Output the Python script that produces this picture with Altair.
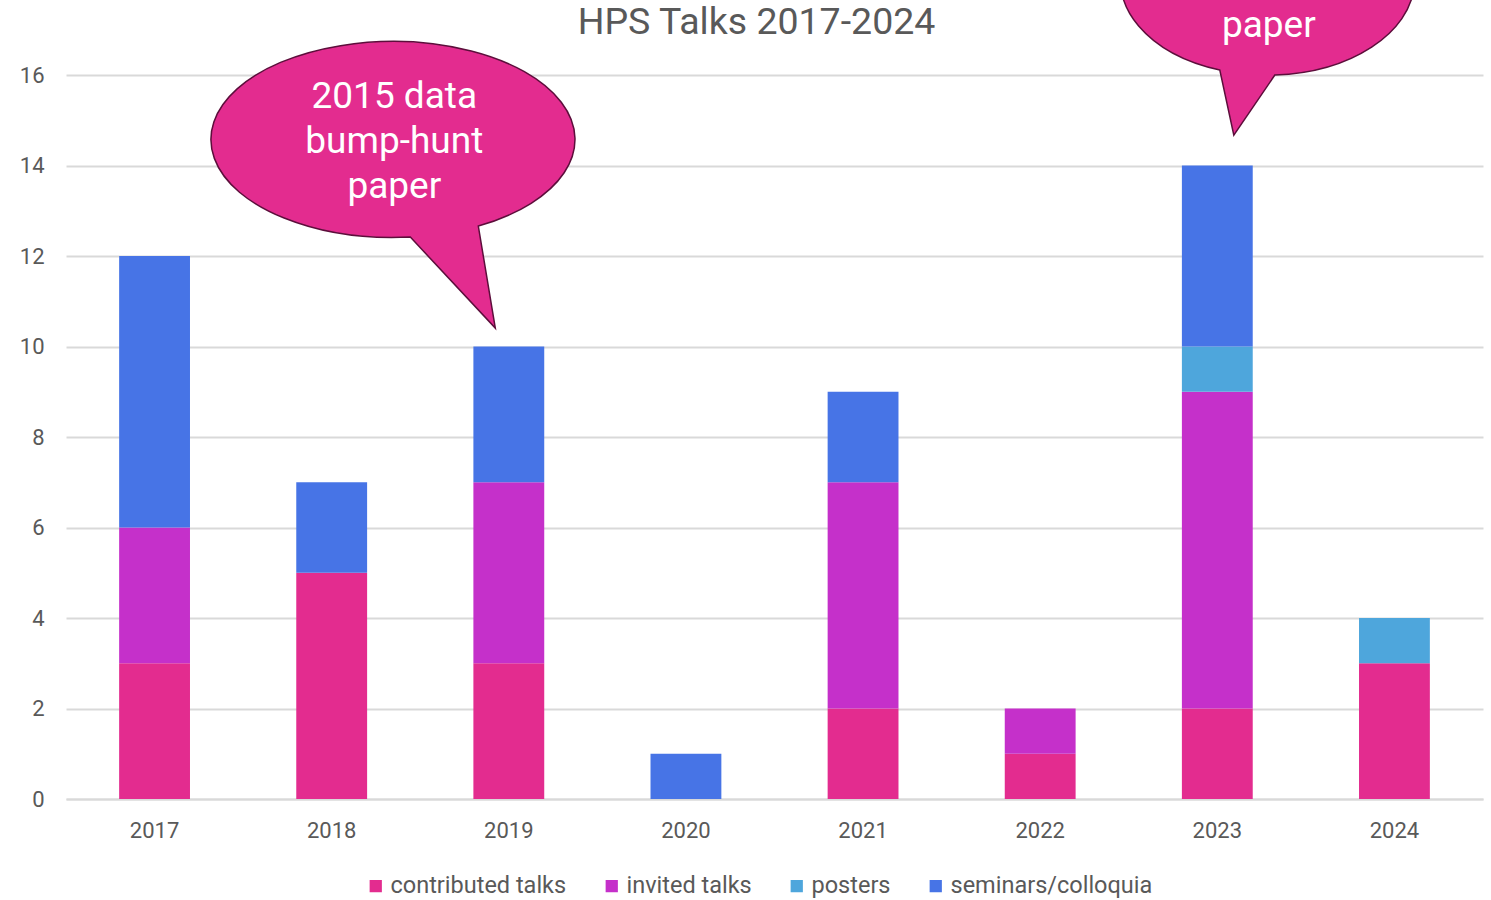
import altair as alt
import pandas as pd

years = ["2017", "2018", "2019", "2020", "2021", "2022", "2023", "2024"]
contributed = [3, 5, 3, 0, 2, 1, 2, 3]
invited = [3, 0, 4, 0, 5, 1, 7, 0]
posters = [0, 0, 0, 0, 0, 0, 1, 1]
seminars = [6, 2, 3, 1, 2, 0, 4, 0]
categories = ["contributed talks", "invited talks", "posters", "seminars/colloquia"]
colors = ["#E32C8F", "#C530CA", "#4EA6DC", "#4774E6"]
y_ticks = [0, 2, 4, 6, 8, 10, 12, 14, 16]
title_text = "HPS Talks 2017-2024"

bubble_years = ["2019", "2023"]
bubble_anchor = [10, 14]
bubble_text = ["2015 data\nbump-hunt\npaper", "paper"]

series = [contributed, invited, posters, seminars]
rows = []
for ci, (cat, vals) in enumerate(zip(categories, series)):
    for y, v in zip(years, vals):
        if v > 0:
            rows.append({"year": y, "category": cat, "value": v, "order": ci})
df = pd.DataFrame(rows)
bdf = pd.DataFrame({"year": bubble_years, "anchor": bubble_anchor, "text": bubble_text})

FONT = "Roboto"
GRAY = "#595959"
PINK = "#E32C8F"

x_scale = alt.Scale(domain=years, paddingInner=0.6, paddingOuter=0.3)
y_scale = alt.Scale(domain=[0, 17.66], nice=False)

bars = alt.Chart(df).mark_bar().encode(
    x=alt.X("year:N", scale=x_scale, sort=years,
            axis=alt.Axis(title=None, labelAngle=0, ticks=False, domainColor="#D9D9D9",
                          domainWidth=2, labelPadding=21)),
    y=alt.Y("value:Q", stack="zero", scale=y_scale,
            axis=alt.Axis(title=None, values=y_ticks, domain=False, ticks=False,
                          gridColor="#D9D9D9", gridWidth=2, labelPadding=22)),
    color=alt.Color("category:N", scale=alt.Scale(domain=categories, range=colors),
                    legend=alt.Legend(orient="none", legendX=298, legendY=874,
                                      direction="horizontal", title=None,
                                      symbolType="square", symbolSize=150,
                                      symbolStrokeWidth=0, labelFontSize=23.5,
                                      labelColor=GRAY, labelFont=FONT, labelLimit=0,
                                      labelOffset=3, columnPadding=33)),
    order=alt.Order("order:Q"),
)

paths = [
    "M -0.985 -1.095 A 1.82 0.98 0 1 1 -0.305 -1.205 L -0.135 -0.185 Z",
    "M 0.025 -0.955 A 1.47 0.95 0 1 1 0.575 -0.905 L 0.165 -0.305 Z",
]
text_offsets = [(-114.5, -249.5), (51.5, -139.5)]

layers = [bars]
for i in range(len(bubble_years)):
    sub = bdf.iloc[[i]]
    layers.append(
        alt.Chart(sub).mark_point(shape=paths[i], size=40000, filled=True, fill=PINK,
                                  stroke="#5C0E3B", strokeWidth=1.5, opacity=1,
                                  fillOpacity=1, strokeOpacity=1, clip=True)
        .encode(x=alt.X("year:N"), y=alt.Y("anchor:Q"))
    )
    layers.append(
        alt.Chart(sub).mark_text(font=FONT, fontSize=37, color="white", lineBreak="\n",
                                 lineHeight=45, baseline="middle", align="center",
                                 dx=text_offsets[i][0], dy=text_offsets[i][1])
        .encode(x=alt.X("year:N"), y=alt.Y("anchor:Q"), text="text:N")
    )

title = alt.Chart(pd.DataFrame({"t": [title_text]})).mark_text(
    font=FONT, fontSize=37.5, color=GRAY, baseline="middle", align="center"
).encode(x=alt.value(690.5), y=alt.value(23), text="t:N")
layers.append(title)

chart = alt.layer(*layers).properties(
    width=1417, height=799,
    autosize=alt.AutoSizeParams(type="none"),
    padding={"left": 66, "top": 0, "right": 8, "bottom": 101},
).configure_view(stroke=None).configure_axis(
    labelFont=FONT, labelFontSize=22, labelColor=GRAY
)

chart.save("out.html", embed_options={"renderer": "svg", "actions": False})
